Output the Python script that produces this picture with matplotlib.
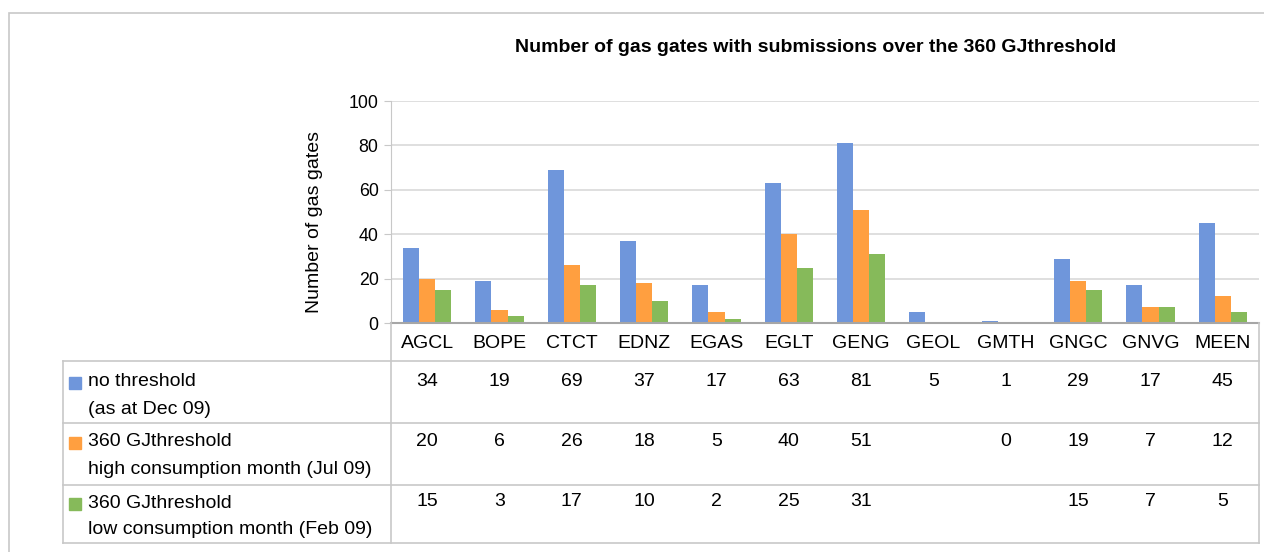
import numpy as np
import matplotlib
matplotlib.use("Agg")
import matplotlib.pyplot as plt
from matplotlib.patches import Rectangle

plt.rcParams['font.family'] = ['Liberation Sans', 'DejaVu Sans']

# data
gates = ["AGCL", "BOPE", "CTCT", "EDNZ", "EGAS", "EGLT", "GENG", "GEOL", "GMTH", "GNGC", "GNVG", "MEEN"]
no_thr = [34, 19, 69, 37, 17, 63, 81, 5, 1, 29, 17, 45]
high_m = [20, 6, 26, 18, 5, 40, 51, None, 0, 19, 7, 12]
low_m = [15, 3, 17, 10, 2, 25, 31, None, None, 15, 7, 5]
series_names = [("no threshold", "(as at Dec 09)"),
                ("360 GJthreshold", "high consumption month (Jul 09)"),
                ("360 GJthreshold", "low consumption month (Feb 09)")]
colors = ["#6F96DB", "#FF9F40", "#86BA5A"]

W, H = 1264, 552
fig = plt.figure(figsize=(W / 100, H / 100), dpi=100)

def rect(x0, y0, x1, y1):
    return [x0 / W, 1 - y1 / H, (x1 - x0) / W, (y1 - y0) / H]

grid_c = "#D9D9D9"
line_c = "#C8C8C8"

# outer frame
fig.add_artist(Rectangle((9 / W, -0.1), 1.2, 1 - 13 / H + 0.1, transform=fig.transFigure,
                         fill=False, edgecolor=line_c, lw=1.2))

fig.text(816 / W, 1 - 47 / H, "Number of gas gates with submissions over the 360 GJthreshold",
         ha="center", va="center", fontsize=14, fontweight="bold")

# chart
ax = fig.add_axes(rect(391, 101, 1259, 323))
x = np.arange(len(gates))
bw = 0.222
all_series = [no_thr, high_m, low_m]
for k, s in enumerate(all_series):
    vals = [np.nan if v is None else v for v in s]
    ax.bar(x + (k - 1) * bw, vals, width=bw, color=colors[k], zorder=3)
ax.set_xlim(-0.5, len(gates) - 0.5)
ax.set_ylim(0, 100)
ax.set_yticks(range(0, 101, 20))
ax.tick_params(axis="y", labelsize=12.8, length=5, color=line_c, pad=4)
ax.set_xticks([])
ax.grid(axis="y", color=grid_c, lw=1.2, zorder=0)
for sp in ["top", "right"]:
    ax.spines[sp].set_visible(False)
ax.spines["left"].set_color(line_c)
ax.spines["bottom"].set_color("#A6A6A6")
ax.spines["bottom"].set_linewidth(1.5)
ax.spines["bottom"].set_zorder(4)
ax.set_ylabel("Number of gas gates", fontsize=14)
ax.yaxis.set_label_coords((323 - 391) / 868, (323 - 222) / 222)

# data table
tx = fig.add_axes(rect(63, 323, 1259, 543))
cw = (1259 - 391) / len(gates)
tx.set_xlim(-0.5 - (391 - 63) / cw, len(gates) - 0.5)
tx.set_ylim(543, 323)
tx.axis("off")
x_left = -0.5 - (391 - 63) / cw
x_axis = -0.5
x_right = len(gates) - 0.5
for yy in [361, 423, 485, 543]:
    tx.plot([x_left, x_right], [yy, yy], color=line_c, lw=1.2, clip_on=False)
tx.plot([x_left, x_left], [361, 543], color=line_c, lw=1.2, clip_on=False)
tx.plot([x_axis, x_axis], [323, 543], color=line_c, lw=1.2, clip_on=False)
tx.plot([x_right, x_right], [323, 543], color=line_c, lw=1.2, clip_on=False)

for i, g in enumerate(gates):
    tx.text(i, 343, g, ha="center", va="center", fontsize=14)

row_y = [381, 441, 502]
for k, s in enumerate(all_series):
    for i, v in enumerate(s):
        if v is not None:
            tx.text(i, row_y[k], str(v), ha="center", va="center", fontsize=14)
    sq = 12 / cw
    tx.add_patch(Rectangle((x_left + 6 / cw, row_y[k] + 1.5 - 6), sq, 12,
                           color=colors[k], clip_on=False))
    tx.text(x_left + 25 / cw, row_y[k] + 1, series_names[k][0], ha="left", va="center", fontsize=14)
    tx.text(x_left + 25 / cw, row_y[k] + 28, series_names[k][1], ha="left", va="center", fontsize=14)

fig.savefig("out.png", dpi=100)
